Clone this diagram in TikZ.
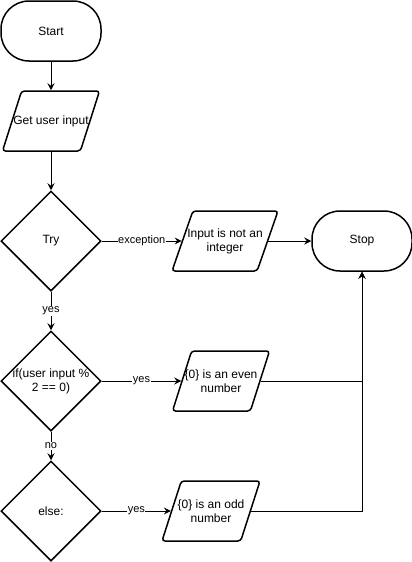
\documentclass[tikz,border=0pt]{standalone}
\usepackage{fontspec}
\setmainfont{Liberation Sans}
\usetikzlibrary{shapes.geometric,arrows.meta}

\begin{document}
\begin{tikzpicture}[x=1pt,y=-1pt,
  txt/.style={font=\fontsize{12}{14}\selectfont, align=center, inner sep=0pt},
  term/.style={draw, line width=1.5pt, rectangle, rounded corners=28pt,
    minimum width=100pt, minimum height=60pt, txt},
  io/.style={draw, line width=1.5pt, trapezium, trapezium left angle=72,
    trapezium right angle=108, trapezium stretches=true, rounded corners=3pt,
    minimum height=60pt, inner sep=2pt},
  dec/.style={draw, line width=1.5pt, diamond, minimum width=100pt,
    minimum height=100pt, inner sep=2pt},
  conn/.style={line width=1pt, -{Stealth[length=7pt,width=7pt,inset=2.5pt]}},
  lbl/.style={fill=white, inner sep=0.5pt, font=\fontsize{11}{13}\selectfont},
]
\useasboundingbox (0,0) rectangle (412,562);

% shapes
\node[term] (start) at (51,31) {Start};
\node[io, minimum width=97pt, label={[txt]center:Get user input}] (get) at (51,121) {};
\node[dec, label={[txt]center:Try}] (try) at (51,241) {};
\node[io, minimum width=106pt, label={[txt]center:{Input is not an\\integer}}] (exc) at (225,241) {};
\node[term] (stop) at (362,241) {Stop};
\node[dec, label={[txt]center:{if(user input \%\\2 == 0)}}] (if) at (51,381) {};
\node[io, minimum width=97pt, label={[txt]center:{\{0\} is an even\\number}}] (even) at (221,381) {};
\node[dec, label={[txt]center:else:}] (else) at (51,511) {};
\node[io, minimum width=98pt, label={[txt]center:{\{0\} is an odd\\number}}] (odd) at (211,511) {};

% connectors
\draw[conn] (start) -- (get);
\draw[conn] (get) -- (try);
\draw[conn] (try) -- node[lbl]{exception} (exc);
\draw[conn] (exc) -- (stop);
\draw[conn] (try) -- node[lbl]{yes} (if);
\draw[conn] (if) -- node[lbl]{yes} (even);
\draw[conn] (if) -- node[lbl]{no} (else);
\draw[conn] (else) -- node[lbl]{yes} (odd);
\draw[conn] (even) -| (stop);
\draw[conn] (odd) -| (stop);
\end{tikzpicture}
\end{document}
